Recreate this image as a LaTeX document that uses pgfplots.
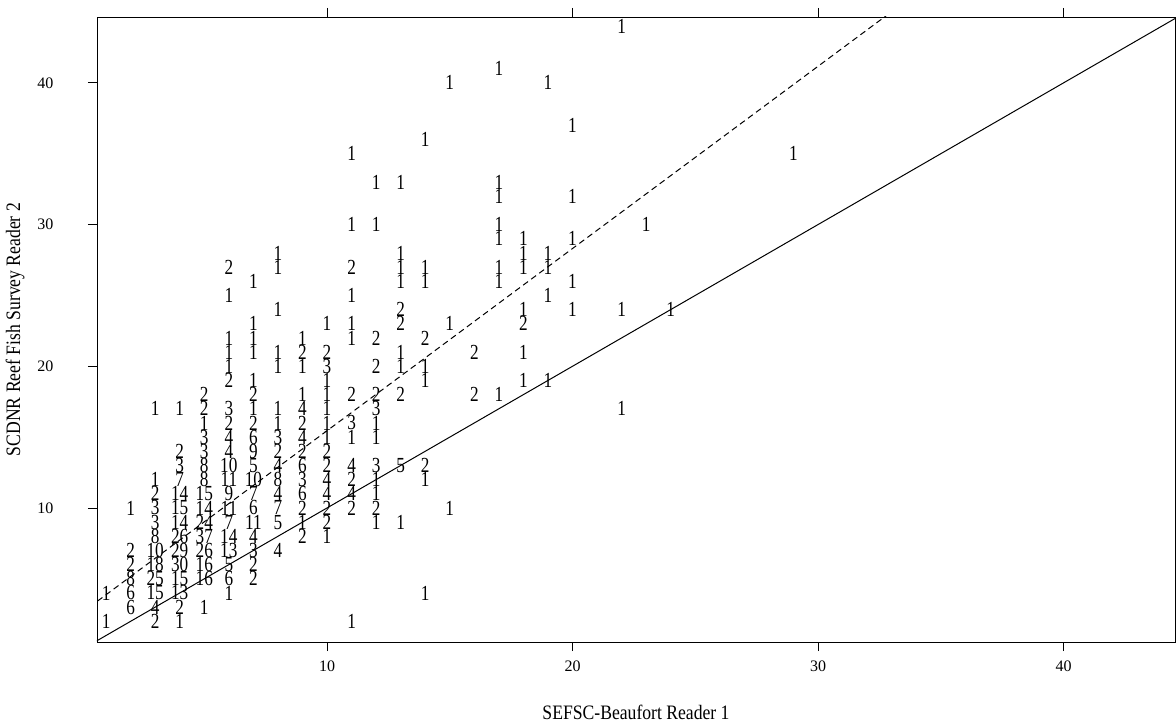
\documentclass[border=0pt]{standalone}
\usepackage{fontspec}
\setmainfont{Liberation Serif}
\newfontfamily\plotfont[FakeStretch=0.8]{Liberation Serif}
\newfontfamily\titlefont[FakeStretch=0.86]{Liberation Serif}
\usepackage{pgfplots}
\usepackage{pgfplotstable}
\pgfplotsset{compat=1.18}
\pgfplotstableread{
x y c
1 2 1
3 2 2
4 2 1
11 2 1
2 3 6
3 3 4
4 3 2
5 3 1
1 4 1
2 4 6
3 4 15
4 4 13
6 4 1
14 4 1
2 5 8
3 5 25
4 5 15
5 5 16
6 5 6
7 5 2
2 6 2
3 6 18
4 6 30
5 6 16
6 6 5
7 6 2
2 7 2
3 7 10
4 7 29
5 7 26
6 7 13
7 7 3
8 7 4
3 8 8
4 8 26
5 8 37
6 8 14
7 8 4
9 8 2
10 8 1
3 9 3
4 9 14
5 9 24
6 9 7
7 9 11
8 9 5
9 9 1
10 9 2
12 9 1
13 9 1
2 10 1
3 10 3
4 10 15
5 10 14
6 10 11
7 10 6
8 10 7
9 10 2
10 10 2
11 10 2
12 10 2
15 10 1
3 11 2
4 11 14
5 11 15
6 11 9
7 11 7
8 11 4
9 11 6
10 11 4
11 11 4
12 11 1
3 12 1
4 12 7
5 12 8
6 12 11
7 12 10
8 12 8
9 12 3
10 12 4
11 12 2
12 12 1
14 12 1
4 13 3
5 13 8
6 13 10
7 13 5
8 13 4
9 13 6
10 13 2
11 13 4
12 13 3
13 13 5
14 13 2
4 14 2
5 14 3
6 14 4
7 14 9
8 14 2
9 14 2
10 14 2
5 15 3
6 15 4
7 15 6
8 15 3
9 15 4
10 15 1
11 15 1
12 15 1
5 16 1
6 16 2
7 16 2
8 16 1
9 16 2
10 16 1
11 16 3
12 16 1
3 17 1
4 17 1
5 17 2
6 17 3
7 17 1
8 17 1
9 17 4
10 17 1
12 17 3
22 17 1
5 18 2
7 18 2
9 18 1
10 18 1
11 18 2
12 18 2
13 18 2
16 18 2
17 18 1
6 19 2
7 19 1
10 19 1
14 19 1
18 19 1
19 19 1
6 20 1
8 20 1
9 20 1
10 20 3
12 20 2
13 20 1
14 20 1
6 21 1
7 21 1
8 21 1
9 21 2
10 21 2
13 21 1
16 21 2
18 21 1
6 22 1
7 22 1
9 22 1
11 22 1
12 22 2
14 22 2
7 23 1
10 23 1
11 23 1
13 23 2
15 23 1
18 23 2
8 24 1
13 24 2
18 24 1
20 24 1
22 24 1
24 24 1
6 25 1
11 25 1
19 25 1
7 26 1
13 26 1
14 26 1
17 26 1
20 26 1
6 27 2
8 27 1
11 27 2
13 27 1
14 27 1
17 27 1
18 27 1
19 27 1
8 28 1
13 28 1
18 28 1
19 28 1
17 29 1
18 29 1
20 29 1
11 30 1
12 30 1
17 30 1
23 30 1
17 32 1
20 32 1
12 33 1
13 33 1
17 33 1
11 35 1
29 35 1
14 36 1
20 37 1
15 40 1
19 40 1
17 41 1
22 44 1
}\counts
\begin{document}
\begin{tikzpicture}
\begin{axis}[
  at={(0pt,0pt)}, anchor=south west,
  width=1078pt, height=625pt, scale only axis,
  xmin=0.63, xmax=44.54, ymin=0.54, ymax=44.65,
  xtick={10,20,30,40}, ytick={10,20,30,40},
  tick align=outside, major tick length=9pt,
  tick style={black, line width=0.9pt},
  axis line style={black, line width=0.9pt},
  /pgf/number format/assume math mode=true,
  ticklabel style={font=\fontsize{16}{16}\selectfont},
  xticklabel style={yshift=-6pt},
  yticklabel style={xshift=-31pt},
  clip=true,
]
\addplot[black, line width=1pt] coordinates {(0,0) (46,46)};
\addplot[black, line width=1pt, dash pattern=on 6pt off 4pt] coordinates {(0,2.59) (35,47.6)};
\addplot[draw=none, mark=none, nodes near coords, point meta=explicit symbolic,
  nodes near coords style={anchor=center, inner sep=0pt, font=\plotfont\fontsize{21.5}{21.5}\selectfont}]
  table[x=x, y=y, meta=c] {\counts};
\end{axis}
\node[font=\titlefont\fontsize{20.5}{20.5}\selectfont] at (539pt,-70pt) {SEFSC-Beaufort Reader 1};
\node[font=\titlefont\fontsize{20.5}{20.5}\selectfont, rotate=90] at (-82pt,312.5pt) {SCDNR Reef Fish Survey Reader 2};
\pgfresetboundingbox
\path[use as bounding box] (-97pt,-84pt) rectangle (1079pt,642pt);
\end{tikzpicture}
\end{document}
